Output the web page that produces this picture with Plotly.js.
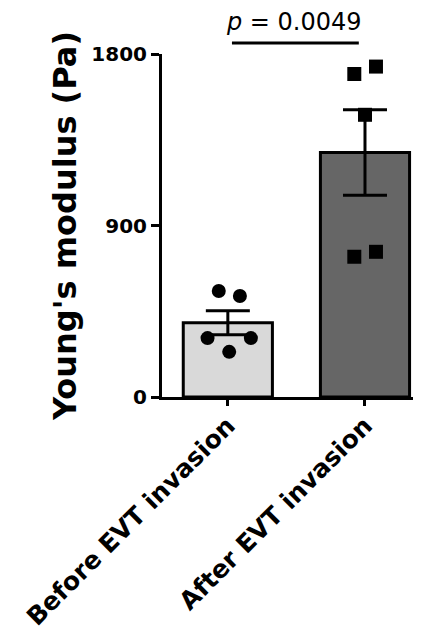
<!DOCTYPE html>
<html>
<head>
<meta charset="utf-8">
<script src="https://cdn.plot.ly/plotly-3.0.1.min.js"></script>
<style>html,body{margin:0;padding:0;background:#fff;}#chart{width:429px;height:637px;}</style>
</head>
<body>
<div id="chart"></div>
<script>
// ---- data ----
var categories = ["Before EVT invasion", "After EVT invasion"];
var means = [390, 1283];
var sems = [63, 224];
var beforePoints = [556, 530, 309, 309, 237];
var afterPoints = [1695, 1734, 1481, 736, 762];
var beforeJitter = [-0.066, 0.088, -0.148, 0.168, 0.01];
var afterJitter = [-0.078, 0.08, 0, -0.078, 0.08];
var yTicks = [0, 900, 1800];
var pValue = "0.0049";

var idx = categories.map(function (c, i) { return i; });
var FONT = "DejaVu Sans, Verdana, sans-serif";

var barTrace = {
  type: "bar", x: idx, y: means, width: 0.65,
  marker: { color: ["#d9d9d9", "#666666"], line: { color: "#000", width: 3 } },
  error_y: { type: "data", array: sems, visible: true, color: "#000", thickness: 3, width: 22 },
  hoverinfo: "skip", showlegend: false
};
var beforeTrace = {
  type: "scatter", mode: "markers",
  x: beforePoints.map(function (v, i) { return idx[0] + beforeJitter[i]; }),
  y: beforePoints, marker: { symbol: "circle", size: 14, color: "#000" },
  cliponaxis: false, showlegend: false
};
var afterTrace = {
  type: "scatter", mode: "markers",
  x: afterPoints.map(function (v, i) { return idx[1] + afterJitter[i]; }),
  y: afterPoints, marker: { symbol: "square", size: 14, color: "#000" },
  cliponaxis: false, showlegend: false
};
var layout = {
  width: 429, height: 637,
  margin: { l: 162, r: 16, t: 54, b: 240 },
  paper_bgcolor: "#fff", plot_bgcolor: "#fff",
  xaxis: {
    range: [-0.48, 1.35], tickvals: idx, ticktext: categories, tickangle: -45,
    tickfont: { family: FONT, size: 25, weight: 700, color: "#000" },
    ticklabelstandoff: -5,
    showline: true, linecolor: "#000", linewidth: 3,
    ticks: "outside", ticklen: 6, tickwidth: 3, tickcolor: "#000",
    showgrid: false, zeroline: false, fixedrange: true, automargin: false
  },
  yaxis: {
    range: [0, 1800], tickvals: yTicks,
    tickfont: { family: FONT, size: 20, weight: 700, color: "#000" },
    showline: true, linecolor: "#000", linewidth: 3,
    ticks: "outside", ticklen: 8, tickwidth: 3, tickcolor: "#000",
    showgrid: false, zeroline: false, fixedrange: true, automargin: false,
    title: { text: "\u00a0Young's modulus (Pa)", standoff: 6,
      font: { family: FONT, size: 32, weight: 700, color: "#000" } }
  },
  shapes: [{ type: "line", xref: "x", yref: "paper", x0: 0.03, x1: 0.955, y0: 1.032, y1: 1.032, line: { color: "#000", width: 3 } }],
  annotations: [{ xref: "x", yref: "paper", x: 0.48, y: 1.093, xanchor: "center", yanchor: "middle",
      showarrow: false, text: "<i>p</i> = " + pValue, font: { family: FONT, size: 24, color: "#000" } }]
};
Plotly.newPlot("chart", [barTrace, beforeTrace, afterTrace], layout, { staticPlot: true, displayModeBar: false });
</script>
</body>
</html>
